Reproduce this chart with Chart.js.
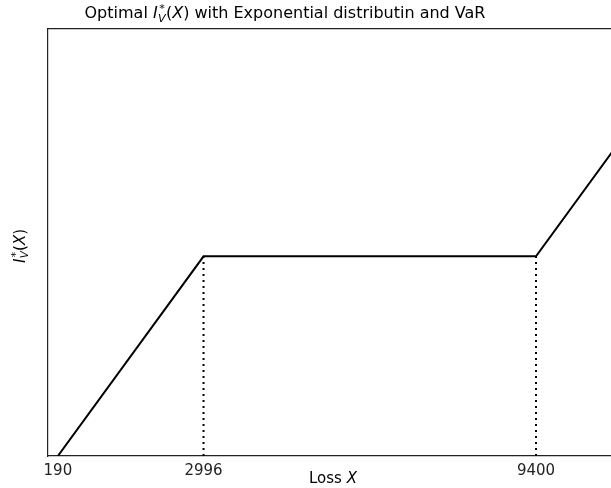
<!DOCTYPE html>
<html>
<head>
<meta charset="utf-8">
<script src="https://cdn.jsdelivr.net/npm/chart.js@4"></script>
<style>
  html, body { margin: 0; padding: 0; background: #fff; overflow: hidden; }
  #wrap { width: 611px; height: 488px; overflow: hidden; }
</style>
</head>
<body>
<div id="wrap"><canvas id="chart" width="690" height="488"></canvas></div>
<script>
// optimal indemnity curve: zero below 190, slope 1 up to 2996, flat to 9400, slope 1 after
const lossX = [190, 2996, 9400, 12000];
const indemnity = [0, 2806, 2806, 5406];
const markX = [2996, 9400];
const markY = [2806, 2806];
const tickValues = [190, 2996, 9400];

const FONT = "'DejaVu Sans', sans-serif";

// draws I_V^*(X) in mathtext style starting at (x, y) baseline
function drawIV(ctx, x, y, size) {
  const small = size * 0.7;
  ctx.font = "italic " + size + "px " + FONT;
  ctx.fillText("I", x, y);
  x += ctx.measureText("I").width + size * 0.02;
  ctx.font = "italic " + small + "px " + FONT;
  ctx.fillText("V", x, y + size * 0.22);
  const wV = ctx.measureText("V").width;
  ctx.font = small + "px " + FONT;
  ctx.fillText("*", x + size * 0.08, y - size * 0.38);
  x += wV + size * 0.02;
  ctx.font = size + "px " + FONT;
  ctx.fillText("(", x, y);
  x += ctx.measureText("(").width;
  ctx.font = "italic " + size + "px " + FONT;
  ctx.fillText("X", x, y);
  x += ctx.measureText("X").width;
  ctx.font = size + "px " + FONT;
  ctx.fillText(")", x, y);
  x += ctx.measureText(")").width;
  return x;
}

function widthIV(ctx, size) {
  let w = 0;
  ctx.font = "italic " + size + "px " + FONT;
  w += ctx.measureText("I").width + ctx.measureText("X").width;
  ctx.font = "italic " + (size * 0.7) + "px " + FONT;
  w += ctx.measureText("V").width;
  ctx.font = size + "px " + FONT;
  w += ctx.measureText("()").width + size * 0.04;
  return w;
}

const labelsPlugin = {
  id: "labels",
  afterDraw(chart) {
    const ctx = chart.ctx;
    ctx.save();
    ctx.fillStyle = "#000";
    ctx.textBaseline = "alphabetic";
    ctx.textAlign = "left";

    // title
    const ts = 16;
    ctx.font = ts + "px " + FONT;
    const pre = "Optimal ";
    const post = " with Exponential distributin and VaR";
    const wPre = ctx.measureText(pre).width;
    const wPost = ctx.measureText(post).width;
    const total = wPre + widthIV(ctx, ts) + wPost;
    let x = 285 - total / 2;
    ctx.font = ts + "px " + FONT;
    ctx.fillText(pre, x, 18);
    x = drawIV(ctx, x + wPre, 18, ts);
    ctx.font = ts + "px " + FONT;
    ctx.fillText(post, x, 18);

    // x axis label
    const ls = 15;
    ctx.font = ls + "px " + FONT;
    const wLoss = ctx.measureText("Loss ").width;
    ctx.font = "italic " + ls + "px " + FONT;
    const wX = ctx.measureText("X").width;
    x = 333 - (wLoss + wX) / 2;
    ctx.font = ls + "px " + FONT;
    ctx.fillText("Loss ", x, 483);
    ctx.font = "italic " + ls + "px " + FONT;
    ctx.fillText("X", x + wLoss, 483);

    // y axis label
    ctx.translate(25, 246);
    ctx.rotate(-Math.PI / 2);
    drawIV(ctx, -widthIV(ctx, ls) / 2, 0, ls);
    ctx.restore();
  }
};

new Chart(document.getElementById("chart"), {
  type: "line",
  data: {
    datasets: [
      {
        data: lossX.map((v, i) => ({ x: v, y: indemnity[i] })),
        borderColor: "#000",
        borderWidth: 2,
        pointRadius: 0,
        tension: 0
      },
      {
        data: [{ x: markX[0], y: 0 }, { x: markX[0], y: markY[0] }],
        borderColor: "#000",
        borderWidth: 2,
        borderDash: [2, 4],
        pointRadius: 0
      },
      {
        data: [{ x: markX[1], y: 0 }, { x: markX[1], y: markY[1] }],
        borderColor: "#000",
        borderWidth: 2,
        borderDash: [2, 4],
        pointRadius: 0
      }
    ]
  },
  options: {
    responsive: false,
    animation: false,
    layout: { padding: { left: 48, top: 29, right: 19, bottom: 0 } },
    plugins: { legend: { display: false }, tooltip: { enabled: false } },
    scales: {
      x: {
        type: "linear",
        min: 0,
        max: 12000,
        grid: { display: false, drawTicks: false },
        border: { display: true, color: "#222", width: 1.2 },
        afterBuildTicks(scale) { scale.ticks = tickValues.map(v => ({ value: v })); },
        afterFit(scale) { scale.height = 32; },
        ticks: {
          color: "#222",
          padding: 6,
          maxRotation: 0,
          autoSkip: false,
          font: { family: FONT, size: 15 },
          callback: v => String(v)
        }
      },
      xTop: {
        type: "linear",
        position: "top",
        min: 0,
        max: 12000,
        grid: { display: false, drawTicks: false },
        border: { display: true, color: "#222", width: 1.2 },
        ticks: { display: false },
        afterFit(scale) { scale.height = 0; }
      },
      y: {
        type: "linear",
        min: 0,
        max: 6000,
        grid: { display: false, drawTicks: false },
        border: { display: true, color: "#222", width: 1.2 },
        ticks: { display: false },
        afterFit(scale) { scale.width = 0; }
      }
    }
  },
  plugins: [labelsPlugin]
});
</script>
</body>
</html>
